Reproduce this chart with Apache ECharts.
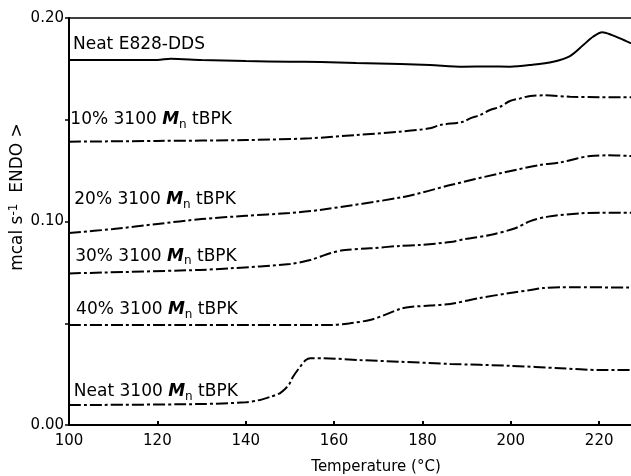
<!DOCTYPE html>
<html>
<head>
<meta charset="utf-8">
<script src="https://cdn.jsdelivr.net/npm/echarts@6/dist/echarts.min.js"></script>
<style>html,body{margin:0;padding:0;background:#fff}#c{width:631px;height:476px}</style>
</head>
<body>
<div id="c"></div>
<script>
// ---- data (temperature in °C, heat flow in mcal/s) ----
var xTicks = [100, 120, 140, 160, 180, 200, 220];
var yTickLabels = ['0.00', '0.10', '0.20'];

var neatE828_T = [100, 110, 120, 123, 130, 140, 150, 157, 165, 175, 181.7, 189.2, 195, 199.8, 204.4, 209.6, 213.4, 216.4, 218.6, 220.7, 222.9, 224.7, 227.2];
var neatE828_V = [0.1794, 0.1794, 0.1794, 0.1800, 0.1794, 0.1789, 0.1785, 0.1784, 0.1779, 0.1774, 0.1769, 0.1761, 0.1762, 0.1761, 0.1769, 0.1785, 0.1813, 0.1867, 0.1908, 0.1930, 0.1916, 0.1900, 0.1876];

var p10_T = [100, 120, 140, 154.6, 165, 174.9, 181.7, 184.0, 189.2, 190.8, 193.0, 195.3, 197.6, 199.8, 202.1, 204.4, 207.8, 213.4, 220, 227.2];
var p10_V = [0.1392, 0.1396, 0.1400, 0.1409, 0.1425, 0.1441, 0.1458, 0.1474, 0.1490, 0.1507, 0.1523, 0.1548, 0.1564, 0.1592, 0.1605, 0.1617, 0.1620, 0.1613, 0.1611, 0.1610];

var p20_T = [100, 110, 120, 130, 140, 150, 156.8, 176, 186.3, 197.6, 206.6, 211.2, 215, 218, 222, 227.2];
var p20_V = [0.0943, 0.0963, 0.0988, 0.1012, 0.1028, 0.1042, 0.1057, 0.1122, 0.1179, 0.1237, 0.1278, 0.1290, 0.1310, 0.1322, 0.1325, 0.1322];

var p30_T = [100, 129.7, 136.5, 150.0, 154.6, 159.1, 162.5, 168.1, 174.9, 179.5, 186.3, 189.7, 195.3, 201.0, 204.4, 208.4, 215.7, 220.2, 227.2];
var p30_V = [0.0745, 0.0762, 0.0770, 0.0791, 0.0811, 0.0844, 0.0860, 0.0868, 0.0880, 0.0885, 0.0899, 0.0914, 0.0934, 0.0967, 0.1002, 0.1024, 0.1040, 0.1043, 0.1043];

var p40_T = [100, 130, 159.1, 163.6, 168.1, 171.5, 174.9, 177.2, 181.7, 186.3, 193.0, 199.8, 204.4, 207.3, 211.2, 215, 227.2];
var p40_V = [0.0491, 0.0491, 0.0491, 0.0500, 0.0516, 0.0541, 0.0570, 0.0580, 0.0587, 0.0595, 0.0624, 0.0649, 0.0663, 0.0673, 0.0677, 0.0677, 0.0675];

var neat3100_T = [100, 129.7, 140, 143.2, 145.5, 147.8, 149.4, 150.0, 150.7, 152.3, 153.6, 154.6, 157.5, 165.9, 174.9, 186.3, 199.8, 211.2, 220.2, 227.2];
var neat3100_V = [0.0098, 0.0103, 0.0112, 0.0123, 0.0138, 0.0157, 0.0188, 0.0206, 0.0237, 0.0286, 0.0319, 0.0328, 0.0328, 0.0319, 0.0311, 0.0300, 0.0291, 0.0279, 0.0270, 0.0270];

var curveNames = ['Neat E828-DDS', '10% 3100 Mn tBPK', '20% 3100 Mn tBPK', '30% 3100 Mn tBPK', '40% 3100 Mn tBPK', 'Neat 3100 Mn tBPK'];
var curveLabels = ['Neat E828-DDS', '10% 3100 {mi|M}{sub|n} tBPK', '20% 3100 {mi|M}{sub|n} tBPK', '30% 3100 {mi|M}{sub|n} tBPK', '40% 3100 {mi|M}{sub|n} tBPK', 'Neat 3100 {mi|M}{sub|n} tBPK'];
var labelAnchorT = [100.9, 100.3, 101.2, 101.4, 101.6, 101.1];
var labelAnchorV = [0.1867, 0.1499, 0.1106, 0.0830, 0.0565, 0.0162];

// ---- build ----
function pairs(t, v) { var out = []; for (var i = 0; i < t.length; i++) out.push([t[i], v[i]]); return out; }
var allT = [neatE828_T, p10_T, p20_T, p30_T, p40_T, neat3100_T];
var allV = [neatE828_V, p10_V, p20_V, p30_V, p40_V, neat3100_V];
var FONT = 'DejaVu Sans';
var dashDot = [12, 3, 3, 3];

var series = allT.map(function (t, i) {
  return {
    name: curveNames[i],
    type: 'line',
    xAxisIndex: 0,
    data: pairs(t, allV[i]),
    smooth: 0.3,
    showSymbol: false,
    symbol: 'none',
    silent: true,
    lineStyle: { color: '#000', width: 2, type: i === 0 ? 'solid' : dashDot },
    markPoint: {
      symbol: 'circle', symbolSize: 0, silent: true,
      data: [{ coord: [labelAnchorT[i], labelAnchorV[i]] }],
      label: {
        show: true, position: 'inside', align: 'left', verticalAlign: 'middle',
        formatter: curveLabels[i],
        color: '#000', fontFamily: FONT, fontSize: 17,
        rich: {
          mi: { fontFamily: FONT, fontSize: 17, fontStyle: 'italic', fontWeight: 'bold', color: '#000' },
          sub: { fontFamily: FONT, fontSize: 12, color: '#000', padding: [10, 0, 0, 0] }
        }
      }
    }
  };
});

var chart = echarts.init(document.getElementById('c'), null, { renderer: 'canvas' });
chart.setOption({
  backgroundColor: '#fff',
  animation: false,
  grid: { left: 69, right: 0, top: 18, bottom: 51, containLabel: false },
  xAxis: [{
    type: 'value', min: 100, max: 227.2, interval: 20, position: 'bottom',
    axisLine: { show: true, lineStyle: { color: '#000', width: 2 } },
    axisTick: { show: true, inside: true, length: 4, lineStyle: { color: '#000', width: 2 } },
    splitLine: { show: false },
    axisLabel: {
      color: '#000', fontFamily: FONT, fontSize: 15, margin: 9, showMaxLabel: false,
      formatter: function (v) { return xTicks.indexOf(Math.round(v)) >= 0 && Math.abs(v - Math.round(v)) < 1e-6 ? String(v) : ''; }
    }
  }, {
    type: 'value', min: 100, max: 227.2, position: 'top',
    axisLine: { show: true, lineStyle: { color: '#000', width: 1.5 } },
    axisTick: { show: false }, axisLabel: { show: false }, splitLine: { show: false }
  }],
  yAxis: {
    type: 'value', min: 0, max: 0.2, interval: 0.05,
    axisLine: { show: true, lineStyle: { color: '#000', width: 2 } },
    axisTick: { show: true, inside: false, length: 4, lineStyle: { color: '#000', width: 1.5 } },
    splitLine: { show: false },
    axisLabel: {
      color: '#000', fontFamily: FONT, fontSize: 15, margin: 5,
      formatter: function (v) {
        var s = v.toFixed(2);
        return yTickLabels.indexOf(s) >= 0 ? s : '';
      }
    }
  },
  graphic: [
    {
      type: 'text', x: 376, y: 467, silent: true,
      style: { text: 'Temperature (°C)', fill: '#000', font: '15px "DejaVu Sans"', textAlign: 'center', textVerticalAlign: 'middle' }
    },
    {
      type: 'text', x: 18, y: 197, rotation: Math.PI / 2, silent: true,
      style: {
        text: '{b|mcal s}{sup|-1}{b|  ENDO >}',
        textAlign: 'center', textVerticalAlign: 'middle',
        rich: {
          b: { fontFamily: FONT, fontSize: 17, fill: '#000' },
          sup: { fontFamily: FONT, fontSize: 12, fill: '#000', padding: [0, 0, 8, 0] }
        }
      }
    }
  ],
  series: series
});
</script>
</body>
</html>
